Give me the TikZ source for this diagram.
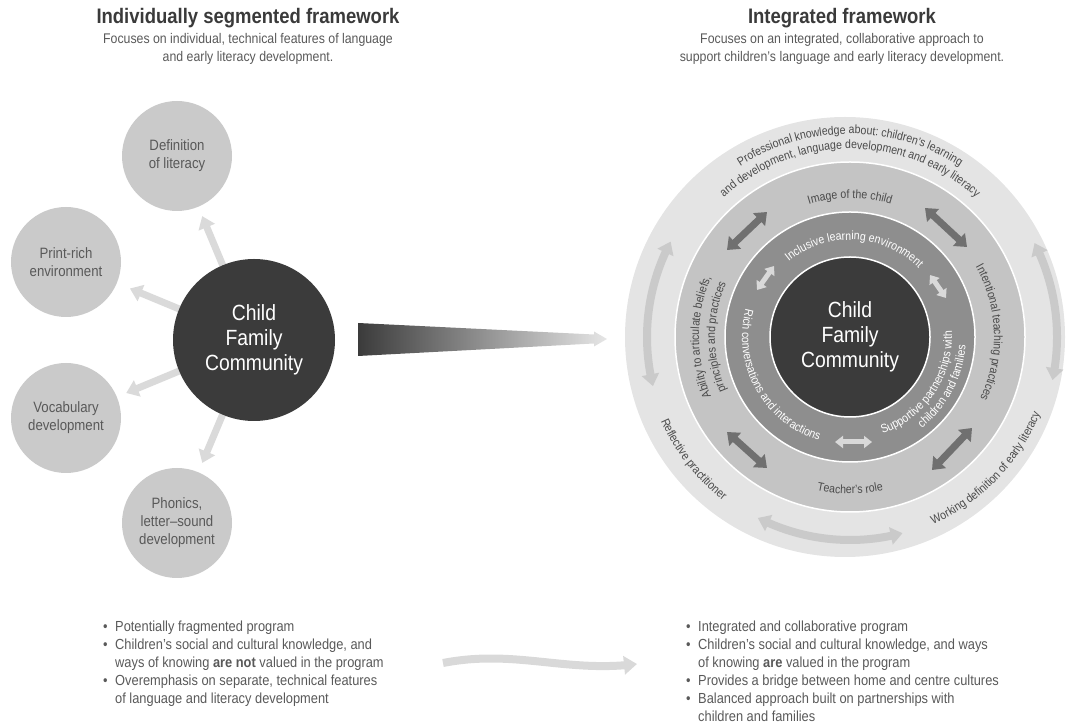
\documentclass[tikz,border=0pt]{standalone}
\usepackage{fontspec}
\setmainfont{Liberation Sans}[FakeStretch=0.88]
\usetikzlibrary{arrows.meta,decorations.text,bending}
\pgfdeclarelayer{bg}
\pgfsetlayers{bg,main}
\definecolor{titlec}{HTML}{3A3A3A}
\definecolor{subc}{HTML}{595959}
\definecolor{satc}{HTML}{CACACA}
\definecolor{hubc}{HTML}{3B3B3B}
\definecolor{spokec}{HTML}{DADADA}
\definecolor{outerc}{HTML}{E4E4E4}
\definecolor{lightc}{HTML}{C4C4C4}
\definecolor{midc}{HTML}{8E8E8E}
\definecolor{darkarr}{HTML}{707070}
\definecolor{palearr}{HTML}{D9D9D9}
\definecolor{outarr}{HTML}{CACACA}
\definecolor{ringtxt}{HTML}{4A4A4A}
\definecolor{gradend}{HTML}{E6E6E6}
\newcommand\rt{\fontsize{12}{12}\selectfont}
\begin{document}
\begin{tikzpicture}[x=1pt,y=1pt,
 titlef/.style={font=\bfseries\fontsize{21}{24}\selectfont,text=titlec},
 subf/.style={font=\fontsize{14}{18}\selectfont,text=subc,align=center},
 sat/.style={circle,fill=satc,minimum size=110pt,inner sep=0pt,align=center,text=subc,font=\fontsize{15}{18}\selectfont},
 hub/.style={circle,fill=hubc,inner sep=0pt,align=center,text=white,font=\fontsize{22}{25}\selectfont},
 spoke/.style={line width=7pt,draw=spokec,-{Triangle[width=17pt,length=12pt]}},
 darr/.style={line width=7pt,draw=darkarr,{Triangle[width=17pt,length=11pt]}-{Triangle[width=17pt,length=11pt]}},
 parr/.style={line width=5pt,draw=palearr,{Triangle[width=12pt,length=8pt]}-{Triangle[width=12pt,length=8pt]}},
 oarr/.style={line width=8pt,draw=outarr,{Triangle[width=17pt,length=12pt,bend]}-{Triangle[width=17pt,length=12pt,bend]}},
 bul/.style={anchor=north west,align=left,inner sep=0pt,text=subc,font=\fontsize{14.6}{18}\selectfont}
]
\useasboundingbox (0,0) rectangle (1070,725);

% ---------- left framework ----------
\node[titlef] (t1) at (248,707) {Individually segmented framework};
\node[subf] (s1) at (248,676) {Focuses on individual, technical features of language\\and early literacy development.};
\node[hub,minimum size=162pt] (hubL) at (254,385) {Child\\Family\\Community};
\node[sat] (def) at (177,569) {Definition\\of literacy};
\node[sat] (prn) at (66,463) {Print-rich\\environment};
\node[sat] (voc) at (66,307) {Vocabulary\\development};
\node[sat] (pho) at (177,202) {Phonics,\\letter--sound\\development};
\begin{pgfonlayer}{bg}
\draw[spoke,shorten >=10pt] (hubL) -- (def);
\draw[spoke,shorten >=14pt] (hubL) -- (prn);
\draw[spoke,shorten >=10pt] (hubL) -- (voc);
\draw[spoke,shorten >=10pt] (hubL) -- (pho);
\end{pgfonlayer}

% ---------- gradient arrow ----------
\shade[left color=hubc,right color=gradend] (358,402) -- (594,390.5) -- (594,393.5) -- (607,386) -- (594,378.5) -- (594,381.5) -- (358,369) -- cycle;

% ---------- right framework ----------
\node[titlef] (t2) at (842,707) {Integrated framework};
\node[subf] (s2) at (842,676) {Focuses on an integrated, collaborative approach to\\support children’s language and early literacy development.};

\begin{scope}[shift={(850,388)}]
\fill[outerc] (-5,0) circle[radius=220];
\filldraw[fill=lightc,draw=white,line width=1.5pt] (0,0) circle[radius=175];
\filldraw[fill=midc,draw=white,line width=1.5pt] (0,0) circle[radius=125];
\node[hub,minimum size=160pt,draw=white,line width=1.5pt] (hubR) at (0,0) {Child\\Family\\Community};
% outer ring arrows
\draw[oarr] (152:203) arc[start angle=152,end angle=194,radius=203];
\draw[oarr] (-12:207) arc[start angle=-12,end angle=27,radius=207];
\draw[oarr] (243:203) arc[start angle=243,end angle=285,radius=203];
% light ring arrows
\draw[darr] (-123,87) -- (-83,125);
\draw[darr] (75,129) -- (117,90);
\draw[darr] (-123,-95) -- (-83,-131);
\draw[darr] (82,-133) -- (122,-91);
% middle ring arrows
\draw[parr] (-93,47) -- (-76,71);
\draw[parr] (80,62) -- (96,39);
\draw[parr] (-15,-105) -- (22,-105);
% outer ring texts
\path[decorate,decoration={text along path,text align=center,text color=ringtxt,text={|\rt|Professional knowledge about:  children’s learning}}] (160:203) arc[start angle=160,end angle=20,radius=203];
\path[decorate,decoration={text along path,text align=center,text color=ringtxt,text={|\rt|and development, language development and early literacy}}] (165:188) arc[start angle=165,end angle=15,radius=188];
\path[decorate,decoration={text along path,text align=center,text color=ringtxt,text={|\rt|Reflective practitioner}}] (178:207) arc[start angle=178,end angle=258,radius=207];
\path[decorate,decoration={text along path,text align=center,text color=ringtxt,text={|\rt|Working definition of early literacy}}] (266:205) arc[start angle=266,end angle=366,radius=205];
% light ring texts
\path[decorate,decoration={text along path,text align=center,text color=ringtxt,text={|\rt|Image of the child}}] (130:139) arc[start angle=130,end angle=50,radius=139];
\path[decorate,decoration={text along path,text align=center,text color=ringtxt,text={|\rt|Intentional teaching practices}}] (45:144) arc[start angle=45,end angle=-41,radius=144];
\path[decorate,decoration={text along path,text align=center,text color=ringtxt,text={|\rt|Teacher’s role}}] (230:157) arc[start angle=230,end angle=310,radius=157];
\path[decorate,decoration={text along path,text align=center,text color=ringtxt,text={|\rt|Ability to articulate beliefs,}}] (225:151) arc[start angle=225,end angle=135,radius=151];
\path[decorate,decoration={text along path,text align=center,text color=ringtxt,text={|\rt|principles and practices}}] (225:135) arc[start angle=225,end angle=135,radius=135];
% middle ring texts
\path[decorate,decoration={text along path,text align=center,text color=white,text={|\rt|Inclusive learning environment}}] (150:97) arc[start angle=150,end angle=24,radius=97];
\path[decorate,decoration={text along path,text align=center,text color=white,text={|\rt|Rich conversations and interactions}}] (150:108) arc[start angle=150,end angle=268,radius=108];
\path[decorate,decoration={text along path,text align=center,text color=white,text={|\rt|Supportive partnerships with}}] (276:102) arc[start angle=276,end angle=376,radius=102];
\path[decorate,decoration={text along path,text align=center,text color=white,text={|\rt|children and families}}] (282:116) arc[start angle=282,end angle=382,radius=116];
\end{scope}

% ---------- bullets ----------
\node[bul] (bl) at (103,104) {\makebox[12pt][l]{•}Potentially fragmented program\\
\makebox[12pt][l]{•}Children’s social and cultural knowledge, and\\
\hspace*{12pt}ways of knowing \textbf{are not} valued in the program\\
\makebox[12pt][l]{•}Overemphasis on separate, technical features\\
\hspace*{12pt}of language and literacy development};
\node[bul] (br) at (686,104) {\makebox[12pt][l]{•}Integrated and collaborative program\\
\makebox[12pt][l]{•}Children’s social and cultural knowledge, and ways\\
\hspace*{12pt}of knowing \textbf{are} valued in the program\\
\makebox[12pt][l]{•}Provides a bridge between home and centre cultures\\
\makebox[12pt][l]{•}Balanced approach built on partnerships with\\
\hspace*{12pt}children and families};
\coordinate (wa) at (443,62);
\coordinate (wb) at (637,61);
\draw[line width=8pt,draw=palearr,-{Triangle[width=18pt,length=13pt]}] (wa) .. controls (515,76) and (565,52) .. (wb);
\end{tikzpicture}
\end{document}
